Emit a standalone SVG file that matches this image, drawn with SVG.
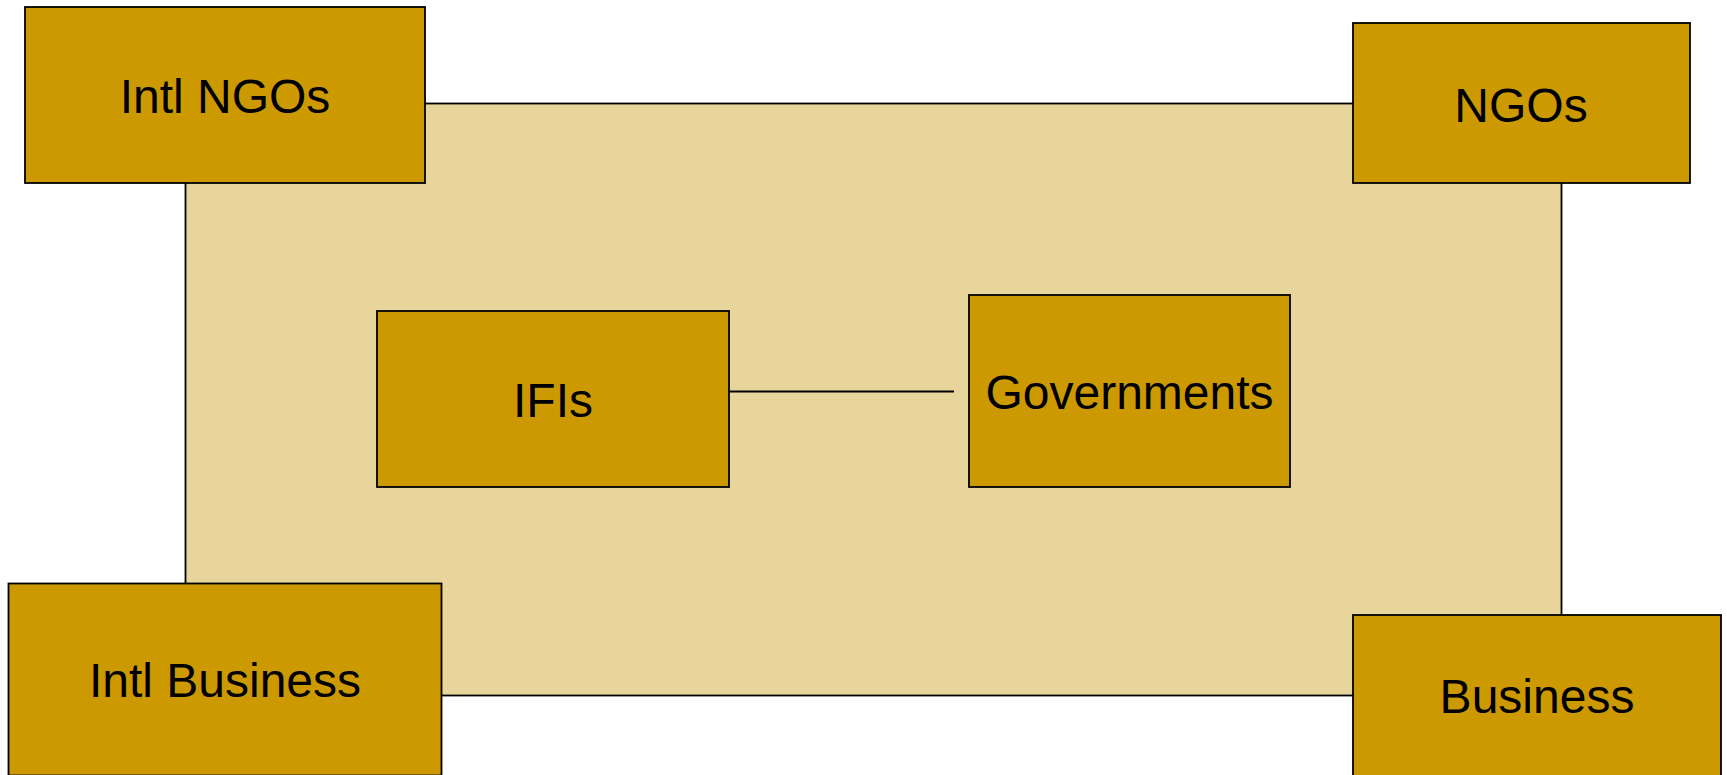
<svg xmlns="http://www.w3.org/2000/svg" width="1727" height="775" viewBox="0 0 1727 775">
<style>
.bg{fill:#E8D59B;stroke:#000;stroke-width:1.8}
.box{fill:#CC9900;stroke:#000;stroke-width:1.8}
.lbl{font-family:"Liberation Sans",Arial,sans-serif;font-size:48px;fill:#000;text-anchor:middle}
.conn{stroke:#000;stroke-width:1.8;fill:none}
</style>
<rect id="background" class="bg" x="185.5" y="103.5" width="1376" height="592"/>
<g id="connectors">
<line class="conn" x1="729" y1="391.5" x2="954" y2="391.5"/>
</g>
<g id="intl-ngos">
<rect class="box" x="25" y="7" width="400" height="176"/>
<text class="lbl" x="225" y="113">Intl NGOs</text>
</g>
<g id="ngos">
<rect class="box" x="1353" y="23" width="337" height="160"/>
<text class="lbl" x="1521" y="121.5">NGOs</text>
</g>
<g id="ifis">
<rect class="box" x="377" y="311" width="352" height="176"/>
<text class="lbl" x="553" y="416.5">IFIs</text>
</g>
<g id="governments">
<rect class="box" x="969" y="295" width="321" height="192"/>
<text class="lbl" x="1129.5" y="408.5">Governments</text>
</g>
<g id="intl-business">
<rect class="box" x="8.5" y="583.5" width="433" height="192"/>
<text class="lbl" x="225" y="696.5">Intl Business</text>
</g>
<g id="business">
<rect class="box" x="1353" y="615" width="368" height="161"/>
<text class="lbl" x="1537" y="713">Business</text>
</g>
</svg>
